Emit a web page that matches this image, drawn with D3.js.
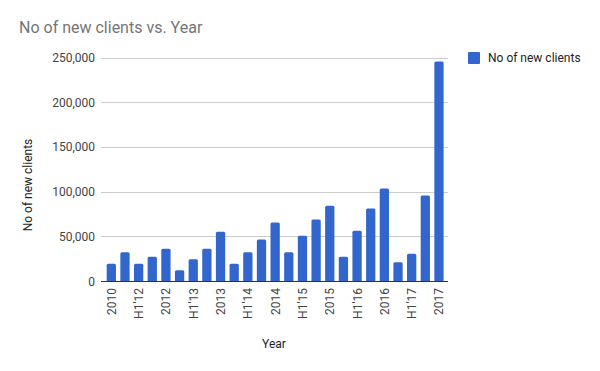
<!DOCTYPE html>
<html>
<head>
<meta charset="utf-8">
<script src="https://cdn.jsdelivr.net/npm/d3@7"></script>
<style>
  body { margin: 0; background: #fff; }
  svg { display: block; font-family: Roboto, Arial, sans-serif; }
</style>
</head>
<body>
<svg id="chart" width="600" height="371"></svg>
<script>
// categories (only every other one gets a visible tick label)
const periods = ["2010", "2011", "H1'12", "Q3'12", "2012", "Q1'13", "H1'13", "Q3'13", "2013",
    "Q1'14", "H1'14", "Q3'14", "2014", "Q1'15", "H1'15", "Q3'15", "2015", "Q1'16", "H1'16",
    "Q3'16", "2016", "Q1'17", "H1'17", "Q3'17", "2017"];
const newClients = [19400, 32100, 19400, 27200, 36200, 11900, 24300, 36200, 55200,
    19400, 32100, 46300, 65300, 32100, 50700, 68700, 84300, 27200, 56300,
    81000, 103400, 20900, 30600, 95500, 245500];
const yTicks = [0, 50000, 100000, 150000, 200000, 250000];

const svg = d3.select("#chart");
const margin = { left: 101, right: 152, top: 57, bottom: 90 };
const width = 600, height = 371;
const blue = "#3366cc";

const x = d3.scaleBand()
    .domain(periods)
    .range([104.5, 445.8])
    .paddingInner(0.32)
    .paddingOuter(0.16);

const y = d3.scaleLinear()
    .domain([0, 250000])
    .range([height - margin.bottom, margin.top + 0.5]);

// title
svg.append("text")
    .attr("x", 19)
    .attr("y", 33)
    .style("font-size", "16px")
    .style("fill", "#757575")
    .text("No of new clients vs. Year");

// gridlines
svg.append("g")
    .selectAll("line")
    .data(yTicks.slice(1))
    .enter().append("line")
    .attr("x1", margin.left)
    .attr("x2", width - margin.right)
    .attr("y1", d => Math.round(y(d)) + 0.5)
    .attr("y2", d => Math.round(y(d)) + 0.5)
    .style("stroke", "#cccccc")
    .style("stroke-width", 1);

// y tick labels
svg.append("g")
    .selectAll("text")
    .data(yTicks)
    .enter().append("text")
    .attr("x", 95)
    .attr("y", d => y(d) + 4.5)
    .attr("text-anchor", "end")
    .style("font-size", "12px")
    .style("fill", "#444")
    .text(d => d3.format(",")(d));

// bars
svg.append("g")
    .selectAll("path")
    .data(periods)
    .enter().append("path")
    .attr("d", (d, i) => {
        const x0 = x(d), w = x.bandwidth();
        const y0 = y(newClients[i]), y1 = y(0), r = 1.5;
        return `M${x0},${y1}V${y0 + r}Q${x0},${y0} ${x0 + r},${y0}H${x0 + w - r}Q${x0 + w},${y0} ${x0 + w},${y0 + r}V${y1}Z`;
    })
    .style("fill", blue);

// baseline
svg.append("line")
    .attr("x1", margin.left)
    .attr("x2", width - margin.right)
    .attr("y1", y(0) + 0.5)
    .attr("y2", y(0) + 0.5)
    .style("stroke", "#333")
    .style("stroke-width", 1);

// x tick labels, rotated
svg.append("g")
    .selectAll("text")
    .data(periods.filter((d, i) => i % 2 === 0))
    .enter().append("text")
    .attr("transform", d => `translate(${x(d) + x.bandwidth() / 2 + 4.5},288) rotate(-90)`)
    .attr("text-anchor", "end")
    .style("font-size", "12px")
    .style("fill", "#444")
    .text(d => d);

// axis titles
svg.append("text")
    .attr("transform", "translate(32,185) rotate(-90)")
    .attr("text-anchor", "middle")
    .style("font-size", "12px")
    .style("fill", "#222")
    .text("No of new clients");

svg.append("text")
    .attr("x", 274)
    .attr("y", 348)
    .attr("text-anchor", "middle")
    .style("font-size", "12px")
    .style("fill", "#222")
    .text("Year");

// legend
const legend = svg.append("g").attr("transform", "translate(468,52)");
legend.append("rect")
    .attr("width", 12)
    .attr("height", 12)
    .attr("rx", 1)
    .style("fill", blue);
legend.append("text")
    .attr("x", 20)
    .attr("y", 10)
    .style("font-size", "12px")
    .style("fill", "#222")
    .text("No of new clients");
</script>
</body>
</html>
